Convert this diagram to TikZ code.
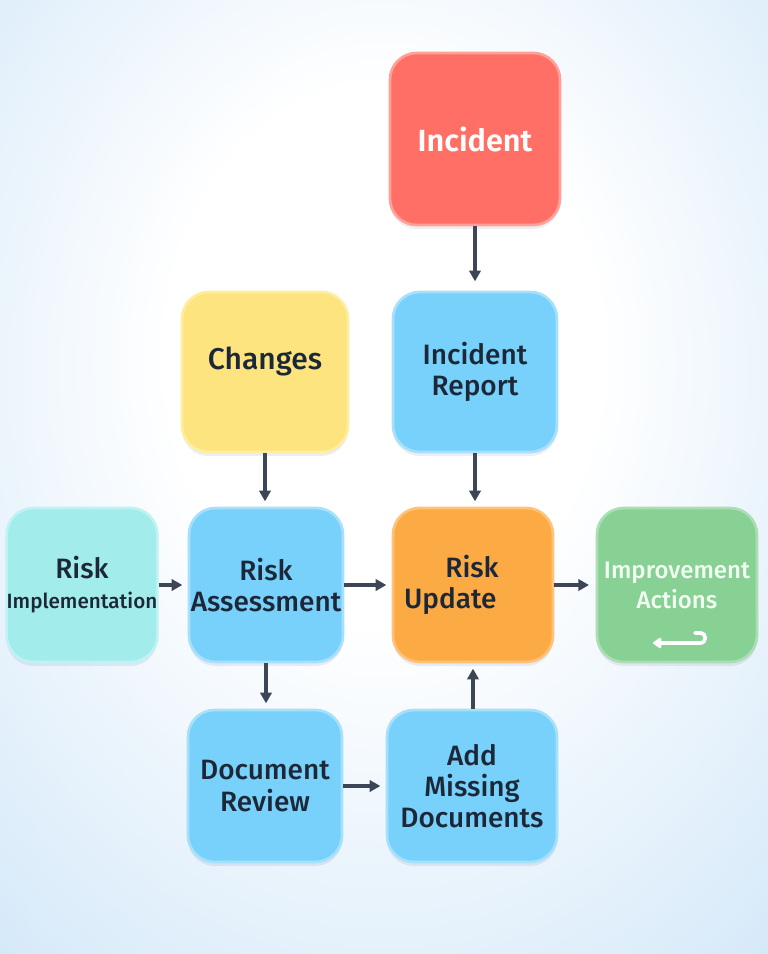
\documentclass[tikz,border=0pt]{standalone}
\usepackage{fontspec}
\setmainfont{Fira Sans}[UprightFont={* Medium}, BoldFont={* SemiBold}]
\usepackage{tikz}
\usetikzlibrary{arrows.meta,positioning,shadows}
\definecolor{incfill}{HTML}{FF6F66}
\definecolor{incdraw}{HTML}{FFA198}
\definecolor{chgfill}{HTML}{FDE47E}
\definecolor{chgdraw}{HTML}{FFEE9E}
\definecolor{docfill}{HTML}{78D1FB}
\definecolor{docdraw}{HTML}{A6E0FB}
\definecolor{impfill}{HTML}{A2ECEB}
\definecolor{impdraw}{HTML}{BDF3F2}
\definecolor{updfill}{HTML}{FBAA44}
\definecolor{upddraw}{HTML}{FFC27A}
\definecolor{actfill}{HTML}{86D193}
\definecolor{actdraw}{HTML}{ABDFB3}
\definecolor{acttext}{HTML}{F2FFF2}
\definecolor{inktext}{HTML}{1C2838}
\definecolor{flowgray}{HTML}{3C4656}
\definecolor{bgout}{HTML}{BFDDF6}
\pgfdeclareradialshading{bgglow}{\pgfpoint{0bp}{8bp}}{color(0bp)=(white); color(14bp)=(white); color(42bp)=(bgout!75); color(72bp)=(bgout)}

\begin{document}
\begin{tikzpicture}[
    x=0.75pt, y=-0.75pt,
    box/.style={line width=2pt, rounded corners=20pt, align=center, inner sep=0pt,
        font=\fontsize{21}{23.5}\selectfont, text=inktext,
        drop shadow={opacity=0.07, shadow xshift=0pt, shadow yshift=-3pt, fill=blue!40!black}},
    redbox/.style={box, fill=incfill, draw=incdraw},
    yellowbox/.style={box, fill=chgfill, draw=chgdraw},
    bluebox/.style={box, fill=docfill, draw=docdraw},
    cyanbox/.style={box, fill=impfill, draw=impdraw},
    orangebox/.style={box, fill=updfill, draw=upddraw},
    greenbox/.style={box, fill=actfill, draw=actdraw},
    flow/.style={-{Triangle[length=8pt,width=8.5pt]}, line width=2.6pt, flowgray, shorten >=4pt}
]

% Background glow
\shade[shading=bgglow] (0,0) rectangle (768,954);
\useasboundingbox (0,0) rectangle (768,954);

% Top row
\node[redbox, text=white, font=\bfseries\fontsize{23}{28}\selectfont,
    minimum width=127.5pt, minimum height=129pt] (inc) at (475,139) {Incident};

% Second row
\node[yellowbox, minimum width=124.5pt, minimum height=120pt, text depth=20pt,
    font=\fontsize{22.5}{26}\selectfont] (chg) at (265,372) {Changes};
\node[bluebox, minimum width=123pt, minimum height=120pt] (rep) at (475,372) {Incident\\Report};

% Middle row
\node[cyanbox, minimum width=112.5pt, minimum height=115.5pt] (rimp) at (82,585)
    {Risk\\[-1pt]{\fontsize{15.5}{18}\selectfont Implementation}};
\node[bluebox, minimum width=115.5pt, minimum height=115.5pt] (rass) at (266,585) {Risk\\Assessment};
\node[orangebox, minimum width=120pt, minimum height=115.5pt, align=left] (rupd) at (473,585)
    {\hspace*{31pt}Risk\\Update\hspace*{34pt}};
\node[greenbox, minimum width=120pt, minimum height=115.5pt, text=acttext,
    font=\fontsize{18}{22.5}\selectfont] (impr) at (677,585) {Improvement\\Actions};

% Bottom row
\node[bluebox, minimum width=115.5pt, minimum height=114pt] (drev) at (265,786) {Document\\Review};
\node[bluebox, minimum width=127.5pt, minimum height=114pt] (addm) at (472,786) {Add\\Missing\\Documents};

% Return glyph inside the actions box
\draw[white, line width=2.8pt, line cap=round, -{Triangle[length=7pt,width=9pt,round]}]
    (695,633) -- (700,633) .. controls (707,633) and (707,643) .. (700,643) -- (653,643);

% Connectors
\draw[flow, shorten >=7pt] (inc) -- (rep);
\draw[flow] (chg.south) -- (chg.south |- rass.north);
\draw[flow] (rep.south) -- (rep.south |- rupd.north);
\draw[flow] (rimp) -- (rass);
\draw[flow] (rass) -- (rupd);
\draw[flow, shorten >=5pt] (rupd) -- (impr);
\draw[flow] (rass.south) -- (rass.south |- drev.north);
\draw[flow] (drev) -- (addm);
\draw[flow] (addm.north -| rupd.south) -- (rupd.south);

\end{tikzpicture}
\end{document}
